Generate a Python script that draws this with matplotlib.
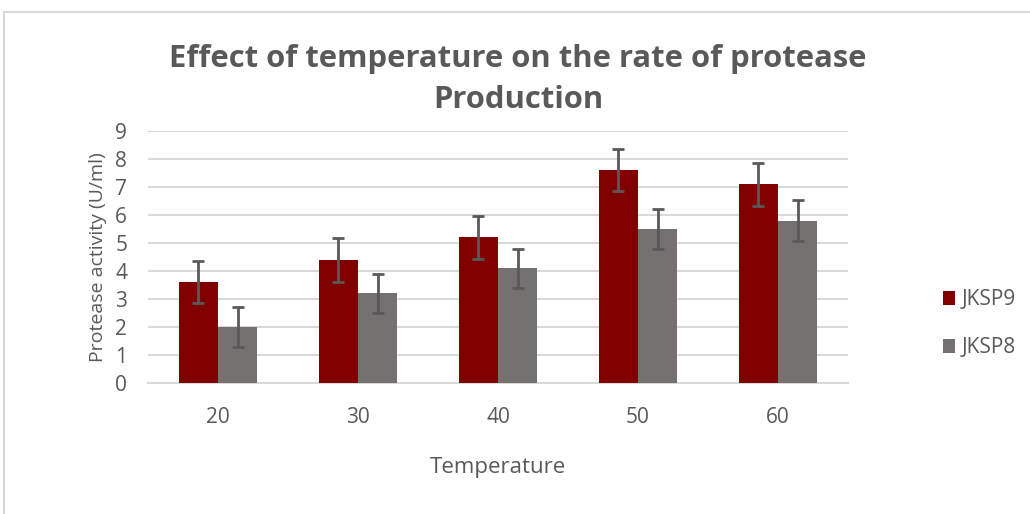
import numpy as np
import matplotlib
matplotlib.use("Agg")
import matplotlib.pyplot as plt
from matplotlib.patches import Rectangle

# data
temperatures = ["20", "30", "40", "50", "60"]
jksp9 = [3.6, 4.4, 5.2, 7.6, 7.1]
jksp8 = [2.0, 3.2, 4.1, 5.5, 5.8]
jksp9_err = [0.75, 0.78, 0.77, 0.75, 0.77]
jksp8_err = [0.7, 0.7, 0.7, 0.7, 0.72]

text_color = "#595959"
plt.rcParams["font.family"] = ["Open Sans", "DejaVu Sans"]


def main():
    fig = plt.figure(figsize=(10.3, 5.14), dpi=100)
    ax = fig.add_axes([0.1437, 0.2549, 0.6796, 0.4903])

    # light frame around the chart area, like the excel export
    fig.patches.append(Rectangle((4 / 1030, -0.1), 1.2, 1 - 12 / 514 + 0.1,
                                 transform=fig.transFigure, fill=False,
                                 edgecolor="#d9d9d9", linewidth=1.5))

    x = np.arange(len(temperatures))
    w = 0.28
    err_style = dict(ecolor="#595959", elinewidth=2, capsize=4, capthick=2)
    ax.bar(x - w / 2, jksp9, w, color="#800000", label="JKSP9",
           yerr=jksp9_err, error_kw=err_style, zorder=3)
    ax.bar(x + w / 2, jksp8, w, color="#767171", label="JKSP8",
           yerr=jksp8_err, error_kw=err_style, zorder=3)

    ax.set_xlim(-0.5, len(temperatures) - 0.5)
    ax.set_ylim(0, 9)
    ax.set_yticks(range(10))
    ax.set_xticks(x)
    ax.set_xticklabels(temperatures)
    ax.yaxis.grid(True, color="#d9d9d9", linewidth=1.5, zorder=0)
    ax.set_axisbelow(True)
    for side in ["top", "right", "left"]:
        ax.spines[side].set_visible(False)
    ax.spines["bottom"].set_color("#d9d9d9")
    ax.spines["bottom"].set_linewidth(1.5)
    ax.tick_params(length=0, labelsize=15, labelcolor=text_color)
    ax.tick_params(axis="y", pad=15)
    ax.tick_params(axis="x", pad=17)

    ax.set_ylabel("Protease activity (U/ml)", fontsize=14, color=text_color, labelpad=6)
    ax.set_xlabel("Temperature", fontsize=16, color=text_color, labelpad=21)

    fig.text(0.503, 0.845, "Effect of temperature on the rate of protease\nProduction",
             ha="center", va="center", fontsize=22.3, fontweight="bold",
             color=text_color, linespacing=1.5)

    fig.legend(loc="center left", bbox_to_anchor=(0.897, 0.37), frameon=False,
               fontsize=15, labelcolor=text_color, handlelength=0.6,
               handleheight=0.6, handletextpad=0.3, labelspacing=1.3)

    fig.savefig("out.png", dpi=100)


if __name__ == "__main__":
    main()
